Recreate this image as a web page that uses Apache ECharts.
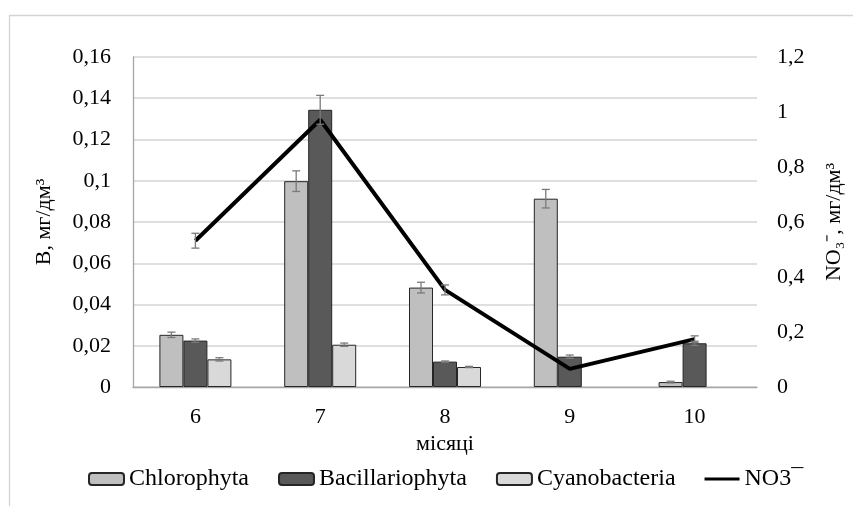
<!DOCTYPE html>
<html>
<head>
<meta charset="utf-8">
<script src="https://cdn.jsdelivr.net/npm/echarts@6/dist/echarts.min.js"></script>
<style>
  html, body { margin: 0; padding: 0; background: #ffffff; }
  #chart { width: 853px; height: 506px; }
</style>
</head>
<body>
<div id="chart"></div>
<script>
// Months of observation
const months = ['6', '7', '8', '9', '10'];

// Biomass of algae groups, mg/dm3
const chlorophyta     = [0.0253, 0.0998, 0.0482, 0.0913, 0.0024];
const bacillariophyta = [0.0225, 0.1344, 0.0123, 0.0147, 0.0212];
const cyanobacteria   = [0.0134, 0.0205, 0.0097, 0, 0];

// Nitrate concentration, mg/dm3
const nitrate = [0.532, 0.972, 0.353, 0.066, 0.174];

// Standard errors
const chlorophytaErr     = [0.0013, 0.005, 0.0026, 0.0045, 0.0004];
const bacillariophytaErr = [0.0008, 0.007, 0.0003, 0.0008, 0.0010];
const cyanobacteriaErr   = [0.0008, 0.0008, 0.0003, 0, 0];
const nitrateErr         = [0.027, 0, 0.018, 0, 0.012];

const serifFont = 'Liberation Serif';
const BAR_W = 24;

const comma = v => String(+v.toFixed(4)).replace('.', ',');

function errData(vals, errs) {
  return vals.map((v, i) => [i, v, errs[i]]).filter(d => d[2] > 0);
}

function errRenderer(offset) {
  return function (params, api) {
    const i = api.value(0), v = api.value(1), e = api.value(2);
    const hi = api.coord([i, v + e]);
    const lo = api.coord([i, v - e]);
    const x = hi[0] + offset;
    const cap = 4;
    const style = { stroke: '#7a7a7a', lineWidth: 1.3, fill: null };
    return {
      type: 'group',
      children: [
        { type: 'line', shape: { x1: x, y1: hi[1], x2: x, y2: lo[1] }, style },
        { type: 'line', shape: { x1: x - cap, y1: hi[1], x2: x + cap, y2: hi[1] }, style },
        { type: 'line', shape: { x1: x - cap, y1: lo[1], x2: x + cap, y2: lo[1] }, style }
      ]
    };
  };
}

function barSeries(name, data, color) {
  return {
    name, type: 'bar',
    // empty months are left without a bar outline
    data: data.map(v => (v === 0 ? '-' : v)),
    barWidth: BAR_W, barGap: '0%',
    itemStyle: { color, borderColor: '#262626', borderWidth: 1 }
  };
}

function errSeries(vals, errs, offset, yAxisIndex) {
  return {
    type: 'custom', yAxisIndex, z: 5,
    data: errData(vals, errs),
    encode: { x: 0, y: 1 },
    renderItem: errRenderer(offset),
    silent: true
  };
}

// thin horizontal stroke inside a 35x12 box for the line legend entry
const lineIcon = 'path://M0,0L0.1,0L0.1,0.1Z M0,4.6L35,4.6L35,7.4L0,7.4Z M34.9,11.9L35,11.9L35,12Z';

const chart = echarts.init(document.getElementById('chart'));
chart.setOption({
  animation: false,
  backgroundColor: '#ffffff',
  textStyle: { fontFamily: serifFont, color: '#000' },
  graphic: [{
    type: 'rect', left: 7, top: 13, z: -10,
    shape: { width: 880, height: 520 },
    style: { fill: null, stroke: '#d4d4d4', lineWidth: 1.3 }
  }],
  grid: { left: 133, right: 91, top: 57, height: 330, containLabel: false },
  legend: {
    data: [
      { name: 'Chlorophyta' },
      { name: 'Bacillariophyta' },
      { name: 'Cyanobacteria' },
      { name: 'NO3¯', icon: lineIcon, itemStyle: { color: '#000', borderWidth: 0 } }
    ],
    bottom: 10, left: 83,
    itemWidth: 35, itemHeight: 12, itemGap: 29,
    textStyle: { fontFamily: serifFont, fontSize: 24, color: '#000' }
  },
  xAxis: {
    type: 'category', data: months,
    name: 'місяці', nameLocation: 'middle', nameGap: 45,
    nameTextStyle: { fontFamily: serifFont, fontSize: 22, color: '#000' },
    axisLine: { lineStyle: { color: '#a6a6a6', width: 1.3 } },
    axisTick: { show: false },
    axisLabel: { fontFamily: serifFont, fontSize: 22, color: '#000', margin: 19 }
  },
  yAxis: [{
    type: 'value', min: 0, max: 0.16, interval: 0.02,
    name: 'В, мг/дм³', nameLocation: 'middle', nameGap: 78, nameRotate: 90,
    nameTextStyle: { fontFamily: serifFont, fontSize: 22, color: '#000' },
    axisLine: { show: true, lineStyle: { color: '#a6a6a6', width: 1.3 } },
    axisTick: { show: false },
    splitLine: { lineStyle: { color: '#d4d4d4', width: 1.5 } },
    axisLabel: { fontFamily: serifFont, fontSize: 22, color: '#000', margin: 22, formatter: comma }
  }, {
    type: 'value', min: 0, max: 1.2, interval: 0.2,
    name: 'NO₃⁻, мг/дм³', nameLocation: 'middle', nameGap: 66, nameRotate: 90,
    nameTextStyle: { fontFamily: serifFont, fontSize: 22, color: '#000' },
    axisLine: { show: false },
    axisTick: { show: false },
    splitLine: { show: false },
    axisLabel: { fontFamily: serifFont, fontSize: 22, color: '#000', margin: 20, formatter: comma }
  }],
  series: [
    barSeries('Chlorophyta', chlorophyta, '#bfbfbf'),
    barSeries('Bacillariophyta', bacillariophyta, '#595959'),
    barSeries('Cyanobacteria', cyanobacteria, '#d9d9d9'),
    errSeries(chlorophyta, chlorophytaErr, -BAR_W, 0),
    errSeries(bacillariophyta, bacillariophytaErr, 0, 0),
    errSeries(cyanobacteria, cyanobacteriaErr, BAR_W, 0),
    {
      name: 'NO3¯', type: 'line', yAxisIndex: 1, data: nitrate,
      symbol: 'none', z: 4,
      lineStyle: { color: '#000', width: 4 },
      itemStyle: { color: '#000' }
    },
    errSeries(nitrate, nitrateErr, 0, 1)
  ]
});
</script>
</body>
</html>
